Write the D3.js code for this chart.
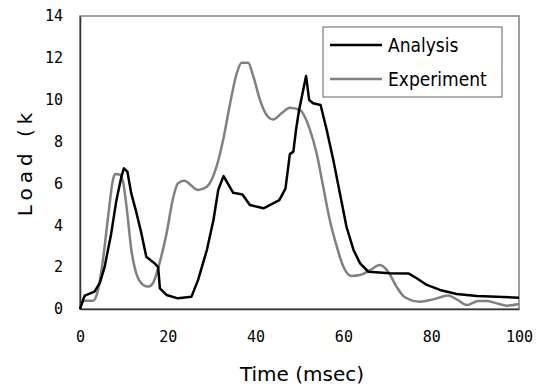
<!DOCTYPE html>
<html>
<head>
<meta charset="utf-8">
<script src="https://cdn.jsdelivr.net/npm/d3@7"></script>
<style>
    body { margin: 0; background: #fff; }
    .tick-label { font-family: "DejaVu Sans Mono", "Liberation Mono", monospace; font-size: 15px; fill: #000; }
    .axis-title { font-family: "DejaVu Sans", sans-serif; font-size: 20px; fill: #000; }
    .legend-text { font-family: "DejaVu Sans Condensed", "Liberation Sans Narrow", "DejaVu Sans", sans-serif; font-size: 19px; fill: #000; }
</style>
</head>
<body>
<svg id="chart"></svg>
<script>
// Analysis curve (time in msec, load in k)
const analysisTime = [0, 0.8, 1.1, 3.3, 4.5, 5.6, 7.1, 8.3, 9.4, 10.0, 10.8, 11.7, 12.8, 14.0, 15.1, 17.0, 17.8, 18.2, 19.7, 22.3,
    25.4, 26.9, 28.9, 30.4, 31.5, 32.7, 34.9, 37.0, 38.7, 41.8, 45.4, 46.8, 47.8, 48.6, 49.2, 49.9, 51.5, 52.2, 53.1, 54.8,
    56.2, 57.7, 59.2, 60.7, 62.3, 63.8, 65.7, 70.6, 74.8, 76.7, 79.0, 82.0, 85.8, 90.4, 94.9, 100];
const analysisLoad = [0, 0.5, 0.64, 0.83, 1.24, 2.0, 3.6, 5.2, 6.3, 6.72, 6.56, 5.5, 4.65, 3.6, 2.5, 2.18, 2.0, 0.99, 0.67, 0.51,
    0.59, 1.39, 2.82, 4.25, 5.7, 6.35, 5.55, 5.47, 4.97, 4.81, 5.2, 5.75, 7.4, 7.52, 8.55, 9.5, 11.13, 9.99, 9.83, 9.75,
    8.55, 7.12, 5.53, 3.93, 2.82, 2.18, 1.78, 1.71, 1.7, 1.47, 1.15, 0.91, 0.72, 0.62, 0.59, 0.54];

// Experiment curve
const experimentTime = [0, 0.9, 3.0, 4.1, 5.2, 6.4, 7.5, 8.0, 9.0, 9.8, 10.6, 11.7, 12.8, 14.4, 15.5, 16.6, 18.1, 19.7, 21.2, 22.3,
    23.7, 26.9, 28.9, 31.1, 32.6, 34.2, 35.7, 36.8, 38.3, 39.5, 41.0, 42.5, 44.0, 45.9, 47.8, 50.1, 52.4, 53.9, 55.4, 56.9,
    58.5, 60.0, 61.9, 63.8, 66.1, 68.3, 70.2, 72.1, 74.0, 77.4, 80.5, 83.9, 85.8, 88.1, 90.7, 92.6, 94.9, 97.2, 100];
const experimentLoad = [0.1, 0.4, 0.4, 0.9, 2.3, 4.4, 6.16, 6.45, 6.43, 6.08, 4.89, 2.82, 1.71, 1.15, 1.07, 1.23, 2.18, 3.6, 5.29, 6.0,
    6.13, 5.69, 5.84, 6.8, 8.07, 9.83, 11.26, 11.77, 11.77, 11.1, 9.99, 9.27, 9.06, 9.35, 9.62, 9.5, 8.55, 7.44, 5.84, 4.25,
    2.98, 2.02, 1.58, 1.62, 1.86, 2.1, 1.78, 1.07, 0.56, 0.35, 0.46, 0.64, 0.46, 0.19, 0.38, 0.38, 0.27, 0.16, 0.24];

const xTicks = [0, 20, 40, 60, 80, 100];
const yTicks = [0, 2, 4, 6, 8, 10, 12, 14];
const seriesNames = ['Analysis', 'Experiment'];

class LineChart {

    constructor(_config) {
        this.config = {
            parentElement: _config.parentElement,
            containerWidth: _config.containerWidth || 544,
            containerHeight: _config.containerHeight || 389,
            margin: { top: 16, bottom: 80, right: 25, left: 80 }
        }
        this.initVis();
    }

    initVis() {
        let vis = this;

        vis.width = vis.config.containerWidth - vis.config.margin.left - vis.config.margin.right;
        vis.height = vis.config.containerHeight - vis.config.margin.top - vis.config.margin.bottom;

        vis.svg = d3.select(vis.config.parentElement)
            .attr('width', vis.config.containerWidth)
            .attr('height', vis.config.containerHeight);

        vis.chart = vis.svg.append('g')
            .attr('transform', `translate(${vis.config.margin.left},${vis.config.margin.top})`);

        vis.xScale = d3.scaleLinear().domain([0, 100]).range([0, vis.width]);
        vis.yScale = d3.scaleLinear().domain([0, 14]).range([vis.height, 0]);

        // plot area frame
        vis.chart.append('rect')
            .attr('width', vis.width)
            .attr('height', vis.height)
            .attr('fill', 'none')
            .attr('stroke', '#808080')
            .attr('stroke-width', 1.5);

        // axes, no tick lines, just labels
        vis.xAxis = d3.axisBottom(vis.xScale).tickValues(xTicks).tickSize(0).tickPadding(22);
        vis.yAxis = d3.axisLeft(vis.yScale).tickValues(yTicks).tickSize(0).tickPadding(17);

        vis.xAxisGroup = vis.chart.append('g')
            .attr('transform', `translate(0,${vis.height})`)
            .call(vis.xAxis);
        vis.yAxisGroup = vis.chart.append('g')
            .call(vis.yAxis);

        [vis.xAxisGroup, vis.yAxisGroup].forEach(g => {
            g.select('.domain').attr('stroke', '#333').attr('stroke-width', 1.5);
            g.selectAll('text').attr('class', 'tick-label').attr('font-family', null).attr('font-size', null);
        });

        vis.svg.append('text')
            .attr('class', 'axis-title')
            .attr('text-anchor', 'middle')
            .attr('x', 302)
            .attr('y', 381)
            .text('Time (msec)');

        vis.svg.append('text')
            .attr('class', 'axis-title')
            .attr('text-anchor', 'middle')
            .attr('font-size', 21)
            .attr('letter-spacing', 5)
            .attr('transform', 'translate(32,162) rotate(-90)')
            .text('Load  (k');
    }

    updateVis() {
        let vis = this;
        vis.series = [
            { name: seriesNames[0], color: '#000', curve: d3.curveLinear,
              values: analysisTime.map((t, i) => ({ t: t, v: analysisLoad[i] })) },
            { name: seriesNames[1], color: '#808080', curve: d3.curveMonotoneX,
              values: experimentTime.map((t, i) => ({ t: t, v: experimentLoad[i] })) }
        ];
        vis.renderVis();
    }

    renderVis() {
        let vis = this;

        // draw experiment first so analysis sits on top
        vis.chart.selectAll('.series-line')
            .data(vis.series.slice().reverse())
            .join('path')
                .attr('class', 'series-line')
                .attr('fill', 'none')
                .attr('stroke', d => d.color)
                .attr('stroke-width', 2.5)
                .attr('stroke-linejoin', 'round')
                .attr('d', d => d3.line()
                    .x(p => vis.xScale(p.t))
                    .y(p => vis.yScale(p.v))
                    .curve(d.curve)(d.values));

        // legend
        const legend = vis.svg.append('g').attr('transform', 'translate(323,27)');
        legend.append('rect')
            .attr('width', 179)
            .attr('height', 70)
            .attr('fill', '#fff')
            .attr('stroke', '#606060')
            .attr('stroke-width', 1);

        const item = legend.selectAll('.legend-item')
            .data(vis.series)
            .join('g')
                .attr('class', 'legend-item')
                .attr('transform', (d, i) => `translate(0,${18 + i * 34})`);
        item.append('line')
            .attr('x1', 7).attr('x2', 59)
            .attr('stroke', d => d.color)
            .attr('stroke-width', 2.5);
        item.append('text')
            .attr('class', 'legend-text')
            .attr('x', 65)
            .attr('dy', '0.35em')
            .text(d => d.name);
    }
}

const chart = new LineChart({ parentElement: '#chart' });
chart.updateVis();
</script>
</body>
</html>
